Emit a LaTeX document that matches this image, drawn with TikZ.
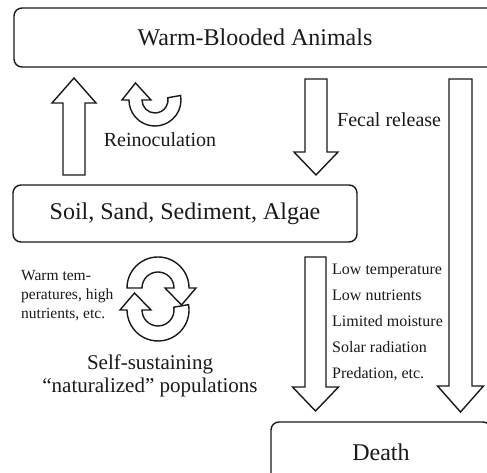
\documentclass[tikz,border=0pt]{standalone}
\usepackage{fontspec}
\setmainfont{Liberation Serif}
\usetikzlibrary{positioning}
\definecolor{ink}{HTML}{1A1A1A}

\begin{document}
\begin{tikzpicture}[
    x=1pt, y=1pt,
    every node/.style={text=ink, inner sep=0pt},
    box/.style={draw=ink, line width=1.4pt, rounded corners=8pt, fill=white},
    fatline/.style={draw=ink, line width=1.4pt, fill=white, line join=miter},
    bigtext/.style={font=\fontsize{24}{28}\selectfont},
    midtext/.style={font=\fontsize{20}{23}\selectfont},
    smalltext/.style={font=\fontsize{15.5}{19}\selectfont, align=left},
  ]
    \clip (0,0) rectangle (487,473);
    \fill[white] (0,0) rectangle (487,473);

    % straight block arrow: x, tail y, head base y, tip y, half shaft, half head
    \newcommand{\blockarrow}[6]{%
      \draw[fatline] ({#1-#5},#2) -- ({#1-#5},#3) -- ({#1-#6},#3) -- (#1,#4)
        -- ({#1+#6},#3) -- ({#1+#5},#3) -- ({#1+#5},#2) -- cycle;
    }
    % curved block arrow (clockwise): centre, start, end, outer r, inner r
    \newcommand{\roundarrow}[5]{%
      \begin{scope}[shift={#1}]
        \draw[fatline] (#2:#4) arc[start angle=#2, end angle=#3, radius=#4]
          -- ({#3}:{#4+7})
          -- ({(#4+#5)/2*cos(#3)+17*cos(#3-90)}, {(#4+#5)/2*sin(#3)+17*sin(#3-90)})
          -- ({#3}:{#5-9}) -- ({#3}:{#5})
          arc[start angle=#3, end angle=#2, radius=#5] -- cycle;
      \end{scope}
    }

    % -------- boxes --------
    \node[box, bigtext, minimum width=482, minimum height=59] (animals) at (255,435.5) {Warm-Blooded Animals};
    \node[box, bigtext, minimum width=344, minimum height=57] (soil) at (185,259.5) {Soil, Sand, Sediment, Algae};
    \node[box, bigtext, minimum width=220, minimum height=60] (death) at (381,21) {Death};

    % -------- block arrows --------
    \blockarrow{74}{298}{370}{395}{11}{22}
    \blockarrow{316}{394}{321}{298}{11}{22}
    \blockarrow{460.5}{394}{87}{61}{11.5}{23}
    \blockarrow{315.5}{216}{86}{62}{10.5}{23}

    % -------- curved arrows --------
    \roundarrow{(155,373)}{10}{-180}{26}{13}
    \roundarrow{(158,185)}{180}{0}{31}{16}
    \roundarrow{(158,163)}{10}{-180}{31}{16}

    % -------- labels --------
    \node[midtext] (reinoc) at (160,333) {Reinoculation};
    \node[midtext, anchor=west] (fecal) at (337,353) {Fecal release};
    \node[smalltext, anchor=west] (warm) at (21,177) {Warm tem-\\peratures, high\\nutrients, etc.};
    \node[font=\fontsize{21}{22.5}\selectfont, align=center] (selfsust) at (150,97)
      {Self-sustaining\\“naturalized” populations};
    \node[font=\fontsize{16}{26}\selectfont, align=left, anchor=west] (stress) at (332,151)
      {Low temperature\\Low nutrients\\Limited moisture\\Solar radiation\\Predation, etc.};
  \end{tikzpicture}
\end{document}
